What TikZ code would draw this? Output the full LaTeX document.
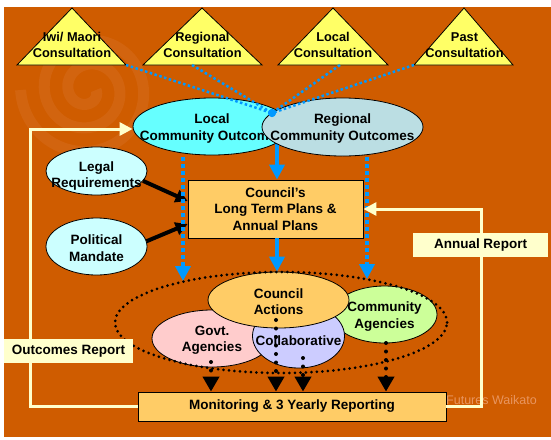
\documentclass[tikz,border=0pt]{standalone}
\usepackage{fontspec}
\setmainfont{Liberation Sans}
\usetikzlibrary{shapes.geometric,arrows.meta}
\definecolor{bgc}{HTML}{CF5C00}
\definecolor{swc}{HTML}{E08245}
\definecolor{yel}{HTML}{FFFF66}
\definecolor{cyanc}{HTML}{66FFFF}
\definecolor{regc}{HTML}{BBDEE3}
\definecolor{lcyan}{HTML}{CCFFFF}
\definecolor{boxc}{HTML}{FFCC66}
\definecolor{pinkc}{HTML}{FFCCCC}
\definecolor{lavc}{HTML}{CCCCFF}
\definecolor{greenc}{HTML}{CCFF99}
\definecolor{creamc}{HTML}{FFFFCC}
\definecolor{bluec}{HTML}{0099FF}
\definecolor{wmc}{HTML}{E8955F}
\begin{document}
\begin{tikzpicture}[x=1pt,y=-1pt,
  txt/.style={font=\bfseries\fontsize{13.5}{16.5}\selectfont, align=center, inner sep=0pt},
  ttxt/.style={font=\bfseries\fontsize{12.8}{16}\selectfont, align=center, inner sep=0pt},
  ov/.style={ellipse, draw=black, line width=0.8pt, inner sep=0pt},
  boxst/.style={rectangle, draw=black, line width=0.8pt, fill=boxc, inner sep=0pt},
  tri/.style={draw=black, line width=0.8pt, fill=yel, line join=miter},
  bluedot/.style={draw=bluec, line width=2.5pt, dash pattern=on 2.5pt off 2.5pt},
  bluevd/.style={draw=bluec, line width=4pt, dash pattern=on 4pt off 3pt, -{Triangle[width=15pt,length=15pt]}},
  bluearr/.style={draw=bluec, line width=4pt, -{Triangle[width=15pt,length=15pt]}},
  blackarr/.style={draw=black, line width=4pt, -{Triangle[width=13pt,length=12pt]}},
  blackdot/.style={draw=black, line width=4pt, line cap=round, dash pattern=on 0pt off 8.5pt, -{Triangle[width=16pt,length=15pt]}},
  ringst/.style={ellipse, draw=black, line width=3pt, line cap=round, dash pattern=on 0pt off 5.5pt, inner sep=0pt},
  creamarr/.style={draw=creamc, line width=3pt, -{Triangle[width=13pt,length=13pt]}},
  lab/.style={txt, fill=creamc, minimum height=24pt}
]
% background
\fill[white] (0,0) rectangle (551,439);
\fill[bgc] (4,7) rectangle (551,437);
\begin{scope}
\clip (4,7) rectangle (551,437);
\draw[swc, opacity=0.22, line width=11pt] plot[domain=0:900, samples=160, smooth]
  ({88+(8+0.066*\x)*cos(\x)}, {90+(8+0.066*\x)*sin(\x)});
\end{scope}
\node[font=\fontsize{12.5}{12.5}\selectfont, text=wmc, anchor=west, inner sep=0pt] (wm) at (446,400) {Futures Waikato};

% triangles
\coordinate (iwiL) at (17,65); \coordinate (iwiT) at (72,8); \coordinate (iwiR) at (126,65);
\coordinate (regL) at (143,65); \coordinate (regT) at (202,8); \coordinate (regR) at (262,65);
\coordinate (locL) at (278,65); \coordinate (locT) at (333,8); \coordinate (locR) at (388,65);
\coordinate (pasL) at (414,65); \coordinate (pasT) at (464,8); \coordinate (pasR) at (513,65);
\draw[tri] (iwiL) -- (iwiT) -- (iwiR) -- cycle;
\draw[tri] (regL) -- (regT) -- (regR) -- cycle;
\draw[tri] (locL) -- (locT) -- (locR) -- cycle;
\draw[tri] (pasL) -- (pasT) -- (pasR) -- cycle;
\node[ttxt] (iwi) at (72,45) {Iwi/ Maori\\Consultation};
\node[ttxt] (regcons) at (202.5,45) {Regional\\Consultation};
\node[ttxt] (loccons) at (333,45) {Local\\Consultation};
\node[ttxt] (pascons) at (464.5,45) {Past\\Consultation};
\coordinate (regB) at (192,65);
\coordinate (locB) at (340,65);

% plans box
\node[boxst, minimum width=175pt, minimum height=58pt] (plans) at (275.5,209) {};
\node[txt] at (plans) {Council’s\\Long Term Plans \&\\Annual Plans};

% central blue arrow (behind outcomes ellipses)
\coordinate (cx) at (277,125);
\draw[bluearr] (cx) -- (plans.north -| cx);

% community outcomes
\node[ov, fill=cyanc, minimum width=158pt, minimum height=57pt] (localO) at (212,126.5) {};
\node[txt] at (212,128.5) {Local\\Community Outcomes};
\node[ov, fill=regc, minimum width=161pt, minimum height=58pt] (regO) at (342.5,127) {};
\node[txt] at (342.5,128.5) {Regional\\Community Outcomes};

% consultation links
\node[circle, fill=bluec, inner sep=0pt, minimum size=8pt] (hub) at (272,113) {};
\draw[bluedot] (iwiR) -- (hub.center);
\draw[bluedot] (regB) -- (hub.center);
\draw[bluedot] (locB) -- (hub.center);
\draw[bluedot] (pasL) -- (hub.center);
\node[circle, fill=bluec, inner sep=0pt, minimum size=8pt] at (hub) {};

% legal / political
\node[ov, fill=lcyan, minimum width=101pt, minimum height=48pt] (legal) at (96.5,171) {};
\node[txt] at (96.5,176) {Legal\\Requirements};
\node[ov, fill=lcyan, minimum width=101pt, minimum height=57pt] (pol) at (96.5,246.5) {};
\node[txt] at (96.5,248) {Political\\Mandate};
\draw[blackarr] (legal.-12) -- ([yshift=8pt]plans.west);
\draw[blackarr] (pol.6) -- ([yshift=-15pt]plans.west);

% actions cluster
\node[ov, fill=greenc, minimum width=105pt, minimum height=57pt] (comm) at (384.5,314.5) {};
\node[txt] at (384.5,316.5) {Community\\Agencies};
\node[ov, fill=pinkc, minimum width=120pt, minimum height=57pt] (govt) at (212,338.5) {};
\node[txt] at (212,340) {Govt.\\Agencies};
\node[ov, fill=lavc, minimum width=92pt, minimum height=64pt] (collab) at (298.5,336) {};
\node[txt] at (298.5,340.5) {Collaborative};
\node[ov, fill=boxc, minimum width=141pt, minimum height=56pt] (actions) at (278.5,300) {};
\node[txt] at (278.5,301.5) {Council\\Actions};
\node[ringst, minimum width=332pt, minimum height=101pt] (ring) at (281,322.5) {};

% monitoring box
\node[boxst, minimum width=308pt, minimum height=29pt] (mon) at (292,406.5) {};
\node[txt] at (mon) {Monitoring \& 3 Yearly Reporting};

% central blue arrow below plans
\draw[bluearr] (plans.south -| cx) -- (actions.north -| cx);

% blue dotted arrows
\coordinate (bl1) at (183,157); \coordinate (bl2) at (183,281);
\coordinate (br1) at (367,157); \coordinate (br2) at (367,279);
\draw[bluevd] (bl1) -- (bl2);
\draw[bluevd] (br1) -- (br2);

% black dotted arrows
\coordinate (d1) at (211,362);
\coordinate (d2) at (276,320);
\coordinate (d3) at (303,358);
\coordinate (d4) at (386,343);
\draw[blackdot] (d1) -- (mon.north -| d1);
\draw[blackdot] (d2) -- (mon.north -| d2);
\draw[blackdot] (d3) -- (mon.north -| d3);
\draw[blackdot] (d4) -- (mon.north -| d4);

% feedback loops
\coordinate (oc) at (30,129);
\coordinate (ac) at (481,209);
\draw[creamarr] (mon.west) -| (oc) -- (oc -| localO.west);
\draw[creamarr] (mon.east) -| (ac) -- (ac -| plans.east);
\node[lab, minimum width=129pt] (outrep) at (68.5,351) {Outcomes Report};
\node[lab, minimum width=135pt] (annrep) at (480.5,245) {Annual Report};
\end{tikzpicture}
\end{document}
